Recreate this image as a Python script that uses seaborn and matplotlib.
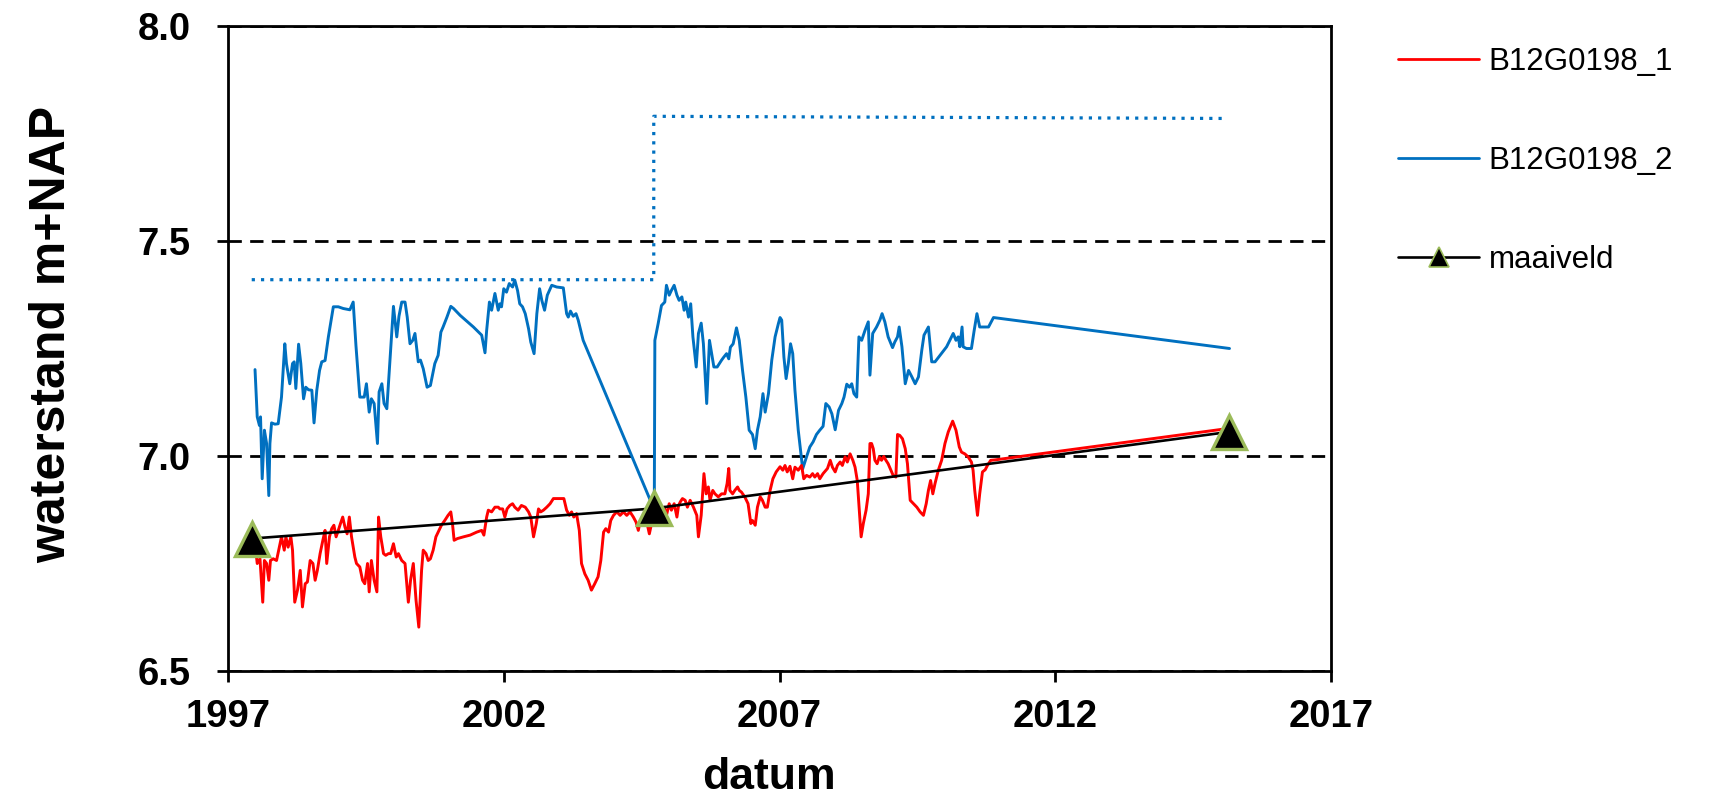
import matplotlib
matplotlib.use("Agg")
import matplotlib.pyplot as plt
from matplotlib.lines import Line2D
import seaborn as sns
import pandas as pd

# ---------------- data ----------------
blue_years = [1997.49, 1997.53, 1997.57, 1997.59, 1997.62, 1997.66, 1997.70, 1997.74, 1997.76, 1997.79,
              1997.85, 1997.91, 1997.97, 1998.03, 1998.06, 1998.12, 1998.17, 1998.20, 1998.23, 1998.28,
              1998.32, 1998.37, 1998.41, 1998.46, 1998.52, 1998.56, 1998.61, 1998.66, 1998.70, 1998.76,
              1998.82, 1998.91, 1999.00, 1999.09, 1999.21, 1999.27, 1999.32, 1999.39, 1999.47, 1999.51,
              1999.56, 1999.60, 1999.65, 1999.71, 1999.74, 1999.79, 1999.83, 1999.88, 1999.94, 2000.00,
              2000.06, 2000.10, 2000.15, 2000.21, 2000.25, 2000.30, 2000.35, 2000.39, 2000.45, 2000.49,
              2000.54, 2000.61, 2000.67, 2000.75, 2000.81, 2000.86, 2000.90, 2000.97, 2001.04, 2001.09,
              2001.21, 2001.45, 2001.60, 2001.66, 2001.69, 2001.74, 2001.78, 2001.84, 2001.90, 2001.93,
              2001.96, 2002.00, 2002.05, 2002.10, 2002.16, 2002.20, 2002.25, 2002.29, 2002.34, 2002.39,
              2002.45, 2002.49, 2002.55, 2002.60, 2002.65, 2002.69, 2002.74, 2002.79, 2002.87, 2002.96,
              2003.08, 2003.14, 2003.17, 2003.21, 2003.26, 2003.31, 2003.35, 2003.44, 2004.68, 2004.73,
              2004.74, 2004.80, 2004.86, 2004.92, 2004.95, 2005.00, 2005.04, 2005.09, 2005.14, 2005.18,
              2005.23, 2005.27, 2005.30, 2005.35, 2005.39, 2005.43, 2005.49, 2005.53, 2005.58, 2005.62,
              2005.68, 2005.73, 2005.77, 2005.81, 2005.87, 2005.95, 2005.99, 2006.04, 2006.08, 2006.11,
              2006.16, 2006.22, 2006.27, 2006.33, 2006.39, 2006.45, 2006.51, 2006.56, 2006.60, 2006.65,
              2006.70, 2006.74, 2006.80, 2006.86, 2006.92, 2006.98, 2007.01, 2007.04, 2007.08, 2007.12,
              2007.16, 2007.20, 2007.24, 2007.28, 2007.34, 2007.42, 2007.49, 2007.55, 2007.61, 2007.67,
              2007.73, 2007.79, 2007.84, 2007.90, 2007.95, 2008.01, 2008.07, 2008.13, 2008.17, 2008.22,
              2008.27, 2008.31, 2008.35, 2008.40, 2008.44, 2008.49, 2008.55, 2008.61, 2008.64, 2008.69,
              2008.76, 2008.82, 2008.86, 2008.91, 2008.97, 2009.05, 2009.09, 2009.14, 2009.17, 2009.22,
              2009.28, 2009.34, 2009.40, 2009.46, 2009.52, 2009.58, 2009.62, 2009.70, 2009.76, 2009.82,
              2009.91, 2010.03, 2010.15, 2010.20, 2010.24, 2010.27, 2010.31, 2010.33, 2010.39, 2010.48,
              2010.53, 2010.58, 2010.63, 2010.79, 2010.88, 2015.16]
blue_values = [7.201, 7.091, 7.071, 7.091, 6.947, 7.060, 7.029, 6.908, 7.029, 7.077,
               7.074, 7.075, 7.137, 7.261, 7.215, 7.168, 7.215, 7.219, 7.157, 7.260,
               7.215, 7.133, 7.160, 7.154, 7.153, 7.077, 7.153, 7.199, 7.219, 7.222,
               7.277, 7.347, 7.347, 7.343, 7.340, 7.358, 7.257, 7.137, 7.137, 7.168,
               7.102, 7.133, 7.122, 7.029, 7.149, 7.168, 7.122, 7.110, 7.230, 7.348,
               7.277, 7.325, 7.358, 7.358, 7.323, 7.261, 7.269, 7.285, 7.219, 7.223,
               7.203, 7.160, 7.164, 7.215, 7.234, 7.288, 7.300, 7.323, 7.348, 7.343,
               7.327, 7.300, 7.281, 7.240, 7.292, 7.358, 7.339, 7.378, 7.339, 7.354,
               7.347, 7.389, 7.381, 7.401, 7.393, 7.409, 7.385, 7.354, 7.347, 7.331,
               7.296, 7.265, 7.238, 7.331, 7.389, 7.362, 7.339, 7.374, 7.397, 7.393,
               7.391, 7.331, 7.323, 7.337, 7.325, 7.331, 7.316, 7.269, 6.890, 6.895,
               7.269, 7.308, 7.350, 7.358, 7.397, 7.374, 7.385, 7.397, 7.374, 7.362,
               7.370, 7.339, 7.358, 7.323, 7.354, 7.277, 7.207, 7.285, 7.309, 7.261,
               7.122, 7.269, 7.238, 7.207, 7.207, 7.223, 7.230, 7.238, 7.226, 7.253,
               7.261, 7.298, 7.269, 7.199, 7.137, 7.060, 7.050, 7.017, 7.060, 7.091,
               7.145, 7.102, 7.145, 7.223, 7.277, 7.308, 7.322, 7.316, 7.230, 7.180,
               7.215, 7.261, 7.238, 7.153, 7.060, 6.970, 6.998, 7.021, 7.033, 7.050,
               7.060, 7.069, 7.122, 7.114, 7.098, 7.061, 7.106, 7.122, 7.137, 7.167,
               7.160, 7.168, 7.145, 7.137, 7.277, 7.269, 7.292, 7.312, 7.188, 7.285,
               7.300, 7.316, 7.331, 7.312, 7.277, 7.252, 7.265, 7.277, 7.300, 7.254,
               7.168, 7.199, 7.184, 7.168, 7.184, 7.246, 7.281, 7.300, 7.219, 7.219,
               7.234, 7.254, 7.285, 7.269, 7.277, 7.254, 7.300, 7.254, 7.250, 7.250,
               7.292, 7.331, 7.300, 7.300, 7.322, 7.250]

red_years = [1997.51, 1997.53, 1997.58, 1997.63, 1997.66, 1997.70, 1997.74, 1997.77, 1997.82, 1997.88,
             1997.93, 1997.97, 1998.02, 1998.05, 1998.09, 1998.14, 1998.17, 1998.21, 1998.26, 1998.31,
             1998.35, 1998.40, 1998.44, 1998.49, 1998.54, 1998.58, 1998.62, 1998.67, 1998.72, 1998.76,
             1998.79, 1998.84, 1998.88, 1998.92, 1998.96, 1999.00, 1999.04, 1999.08, 1999.12, 1999.16,
             1999.20, 1999.24, 1999.30, 1999.33, 1999.39, 1999.44, 1999.48, 1999.53, 1999.56, 1999.60,
             1999.65, 1999.70, 1999.73, 1999.77, 1999.82, 1999.86, 1999.91, 1999.95, 2000.00, 2000.05,
             2000.09, 2000.15, 2000.21, 2000.27, 2000.31, 2000.36, 2000.41, 2000.46, 2000.51, 2000.54,
             2000.59, 2000.63, 2000.67, 2000.72, 2000.77, 2000.81, 2000.87, 2000.93, 2000.99, 2001.04,
             2001.07, 2001.10, 2001.16, 2001.27, 2001.39, 2001.51, 2001.60, 2001.64, 2001.69, 2001.72,
             2001.78, 2001.84, 2001.90, 2001.93, 2001.98, 2002.02, 2002.06, 2002.11, 2002.16, 2002.20,
             2002.26, 2002.32, 2002.39, 2002.45, 2002.49, 2002.54, 2002.59, 2002.63, 2002.67, 2002.72,
             2002.78, 2002.84, 2002.90, 2003.02, 2003.09, 2003.14, 2003.19, 2003.23, 2003.27, 2003.32,
             2003.37, 2003.41, 2003.47, 2003.53, 2003.59, 2003.65, 2003.71, 2003.76, 2003.81, 2003.85,
             2003.90, 2003.94, 2003.99, 2004.05, 2004.11, 2004.17, 2004.23, 2004.29, 2004.35, 2004.40,
             2004.44, 2004.47, 2004.52, 2004.56, 2004.60, 2004.64, 2004.68, 2004.72, 2004.82, 2004.86,
             2004.91, 2004.95, 2005.00, 2005.04, 2005.09, 2005.14, 2005.17, 2005.20, 2005.24, 2005.29,
             2005.33, 2005.38, 2005.44, 2005.50, 2005.53, 2005.58, 2005.63, 2005.67, 2005.71, 2005.74,
             2005.79, 2005.83, 2005.89, 2005.95, 2006.01, 2006.05, 2006.08, 2006.10, 2006.15, 2006.19,
             2006.24, 2006.27, 2006.31, 2006.37, 2006.43, 2006.48, 2006.51, 2006.56, 2006.60, 2006.65,
             2006.69, 2006.74, 2006.78, 2006.83, 2006.88, 2006.94, 2007.01, 2007.06, 2007.10, 2007.14,
             2007.19, 2007.24, 2007.28, 2007.34, 2007.40, 2007.44, 2007.49, 2007.55, 2007.60, 2007.64,
             2007.69, 2007.73, 2007.79, 2007.87, 2007.92, 2007.96, 2008.01, 2008.05, 2008.10, 2008.14,
             2008.19, 2008.23, 2008.28, 2008.33, 2008.37, 2008.41, 2008.45, 2008.48, 2008.52, 2008.57,
             2008.61, 2008.64, 2008.67, 2008.70, 2008.73, 2008.77, 2008.81, 2008.85, 2008.89, 2008.93,
             2008.97, 2009.02, 2009.06, 2009.11, 2009.14, 2009.18, 2009.23, 2009.28, 2009.32, 2009.37,
             2009.43, 2009.49, 2009.55, 2009.61, 2009.66, 2009.70, 2009.74, 2009.78, 2009.82, 2009.88,
             2009.94, 2010.00, 2010.06, 2010.14, 2010.20, 2010.26, 2010.30, 2010.36, 2010.42, 2010.48,
             2010.51, 2010.54, 2010.59, 2010.63, 2010.68, 2010.73, 2010.77, 2010.83, 2010.91, 2015.02]
red_values = [6.773, 6.750, 6.761, 6.660, 6.757, 6.750, 6.711, 6.757, 6.761, 6.757,
              6.788, 6.812, 6.781, 6.812, 6.788, 6.812, 6.781, 6.660, 6.688, 6.734,
              6.649, 6.703, 6.707, 6.757, 6.750, 6.711, 6.734, 6.773, 6.804, 6.827,
              6.750, 6.812, 6.831, 6.839, 6.812, 6.827, 6.843, 6.858, 6.835, 6.819,
              6.858, 6.812, 6.765, 6.750, 6.742, 6.711, 6.703, 6.750, 6.684, 6.757,
              6.711, 6.684, 6.858, 6.812, 6.773, 6.769, 6.773, 6.773, 6.796, 6.765,
              6.773, 6.757, 6.750, 6.660, 6.711, 6.750, 6.664, 6.602, 6.734, 6.781,
              6.773, 6.757, 6.761, 6.781, 6.812, 6.823, 6.839, 6.850, 6.862, 6.870,
              6.843, 6.804, 6.808, 6.812, 6.816, 6.823, 6.827, 6.816, 6.858, 6.874,
              6.870, 6.881, 6.881, 6.877, 6.877, 6.858, 6.877, 6.885, 6.889, 6.881,
              6.874, 6.885, 6.881, 6.870, 6.858, 6.812, 6.843, 6.877, 6.870, 6.874,
              6.881, 6.889, 6.901, 6.901, 6.901, 6.874, 6.862, 6.870, 6.858, 6.866,
              6.827, 6.750, 6.726, 6.711, 6.688, 6.703, 6.719, 6.757, 6.823, 6.831,
              6.823, 6.850, 6.862, 6.870, 6.862, 6.870, 6.862, 6.870, 6.858, 6.846,
              6.827, 6.846, 6.858, 6.866, 6.843, 6.819, 6.843, 6.858, 6.858, 6.874,
              6.881, 6.862, 6.889, 6.874, 6.889, 6.858, 6.885, 6.893, 6.901, 6.897,
              6.881, 6.897, 6.881, 6.862, 6.812, 6.862, 6.959, 6.912, 6.928, 6.897,
              6.920, 6.912, 6.905, 6.912, 6.912, 6.936, 6.971, 6.920, 6.912, 6.920,
              6.928, 6.920, 6.916, 6.905, 6.889, 6.843, 6.850, 6.839, 6.881, 6.905,
              6.897, 6.881, 6.881, 6.920, 6.947, 6.963, 6.975, 6.967, 6.978, 6.963,
              6.976, 6.947, 6.974, 6.967, 6.978, 6.947, 6.955, 6.951, 6.959, 6.951,
              6.959, 6.947, 6.959, 6.971, 6.990, 6.974, 6.963, 6.978, 6.986, 6.978,
              6.998, 6.986, 7.005, 6.990, 6.974, 6.943, 6.866, 6.812, 6.843, 6.874,
              6.912, 7.029, 7.029, 7.017, 6.990, 6.982, 6.998, 6.990, 6.999, 6.990,
              6.982, 6.967, 6.955, 6.951, 7.050, 7.048, 7.040, 7.017, 6.982, 6.897,
              6.889, 6.881, 6.870, 6.862, 6.889, 6.920, 6.943, 6.912, 6.936, 6.967,
              6.990, 7.029, 7.056, 7.081, 7.060, 7.021, 7.009, 7.005, 6.998, 6.986,
              6.967, 6.920, 6.862, 6.912, 6.963, 6.968, 6.978, 6.990, 6.991, 7.062]

# filter depth (top of screen) of B12G0198_2, dotted step line
filter_years = [1997.43, 2004.72, 2004.72, 2015.07]
filter_values = [7.41, 7.41, 7.79, 7.785]

maaiveld_years = [1997.43, 2004.72, 2015.15]
maaiveld_values = [6.808, 6.878, 7.056]

series_labels = ["B12G0198_1", "B12G0198_2", "maaiveld"]
x_ticks = [1997, 2002, 2007, 2012, 2017]
y_ticks = [6.5, 7.0, 7.5, 8.0]

RED = "#FF0000"
BLUE = "#0070C0"
TRI_EDGE = "#9BBB59"

# ---------------- figure ----------------
sns.set_style("ticks")
plt.rcParams["font.family"] = ["Liberation Sans", "DejaVu Sans"]

W, H = 1722, 796
fig = plt.figure(figsize=(W / 100, H / 100), dpi=100)
L, R, T, B = 228, 1331, 26, 671
ax = fig.add_axes([L / W, 1 - B / H, (R - L) / W, (B - T) / H])

df_blue = pd.DataFrame({"jaar": blue_years, "waterstand": blue_values})
df_red = pd.DataFrame({"jaar": red_years, "waterstand": red_values})
df_filter = pd.DataFrame({"jaar": filter_years, "waterstand": filter_values})
df_mv = pd.DataFrame({"jaar": maaiveld_years, "waterstand": maaiveld_values})

sns.lineplot(data=df_filter, x="jaar", y="waterstand", ax=ax, color=BLUE,
             linewidth=2.3, linestyle=(0, (1, 1.9)), estimator=None, sort=False, zorder=2)
sns.lineplot(data=df_blue, x="jaar", y="waterstand", ax=ax, color=BLUE,
             linewidth=2.1, estimator=None, sort=False, zorder=2)
sns.lineplot(data=df_red, x="jaar", y="waterstand", ax=ax, color=RED,
             linewidth=2.1, estimator=None, sort=False, zorder=3)
sns.lineplot(data=df_mv, x="jaar", y="waterstand", ax=ax, color="black",
             linewidth=1.9, marker="^", markersize=24, markerfacecolor="black",
             markeredgecolor=TRI_EDGE, markeredgewidth=2.4,
             estimator=None, sort=False, zorder=4)

ax.set_xlim(1997, 2017)
ax.set_ylim(6.5, 8.0)
ax.set_xticks(x_ticks)
ax.set_xticklabels([str(t) for t in x_ticks])
ax.set_yticks(y_ticks)
ax.set_yticklabels([f"{t:.1f}" for t in y_ticks])

ax.grid(axis="y", color="black", linewidth=2.0, linestyle=(0, (4.8, 3.0)))
ax.grid(axis="x", visible=False)
ax.set_axisbelow(True)

for s in ax.spines.values():
    s.set_visible(True)
    s.set_color("black")
    s.set_linewidth(2.0)

ax.tick_params(axis="both", direction="out", length=8, width=2.0, color="black",
               labelsize=27.5, labelcolor="black")
ax.tick_params(axis="y", pad=19)
ax.tick_params(axis="x", pad=12)
for lab in ax.get_xticklabels() + ax.get_yticklabels():
    lab.set_fontweight("bold")

ax.set_xlabel("datum", fontsize=32, fontweight="bold", color="black")
ax.xaxis.set_label_coords(0.49, -0.134)
ax.set_ylabel("waterstand m+NAP", fontsize=36, fontweight="bold", color="black")
ax.yaxis.set_label_coords(-0.139, 0.522)

handles = [
    Line2D([], [], color=RED, linewidth=2.0),
    Line2D([], [], color=BLUE, linewidth=2.0),
    Line2D([], [], color="black", linewidth=1.9, marker="^", markersize=14,
           markerfacecolor="black", markeredgecolor=TRI_EDGE, markeredgewidth=1.2),
]
leg = ax.legend(handles, series_labels, loc="upper left",
                bbox_to_anchor=(1398 / W, 1 - 47 / H), bbox_transform=fig.transFigure,
                frameon=False, fontsize=22.5, handlelength=2.6, handletextpad=0.3,
                labelspacing=2.2, borderpad=0, borderaxespad=0)
for t in leg.get_texts():
    t.set_color("black")

fig.savefig("out.png", dpi=100, facecolor="white")
